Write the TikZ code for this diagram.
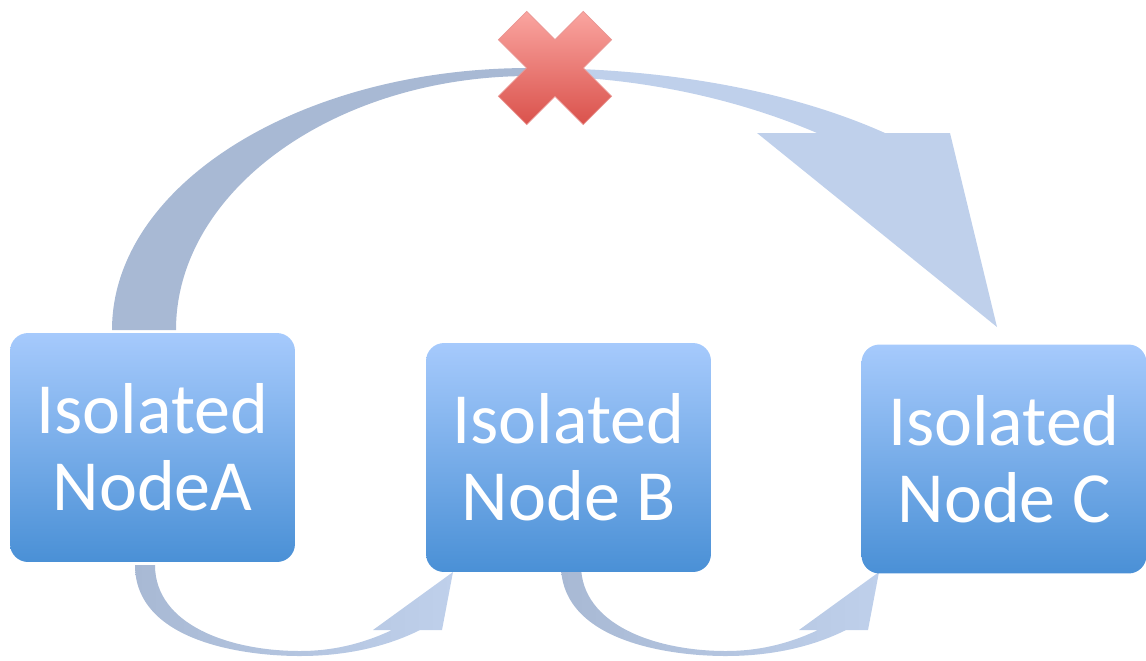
\documentclass[tikz,border=0pt]{standalone}
\usepackage{fontspec}
\setmainfont{Carlito}
\usepackage{tikz}

\definecolor{arrowdark}{RGB}{168,185,212}
\definecolor{arrowlight}{RGB}{191,208,235}
\definecolor{boxtop}{RGB}{166,202,252}
\definecolor{boxbottom}{RGB}{74,144,214}
\definecolor{crosstop}{RGB}{250,165,160}
\definecolor{crossbottom}{RGB}{218,82,76}

\begin{document}
\begin{tikzpicture}[x=0.02cm, y=-0.02cm]
      \useasboundingbox (0,0) rectangle (1146,660);
      \begin{scope}[isonode/.style={rounded corners=0.36cm, minimum width=5.7cm, minimum height=4.58cm, inner sep=0, top color=boxtop, bottom color=boxbottom, text=white, align=center, font=\fontsize{41}{44}\selectfont}]
        % top arrow, from A over to C
        \fill [arrowdark] (112,330) .. controls (112,185) and (300,68) .. (530,68) -- (530,76) .. controls (336,76) and (176,190) .. (176,330) -- cycle;
        \fill [arrowlight] (530,68) .. controls (680,68) and (800,95) .. (885,133) -- (950,133) -- (997,327) -- (757,133) -- (817,133) .. controls (740,100) and (640,76) .. (530,76) -- cycle;
        % bottom arrows
        \foreach \dx/\w in {0/20, 426/20} {
          \begin{scope}[xshift=\dx*0.02cm]
            \shade [left color=arrowdark, right color=arrowlight] (135,565) .. controls (135,640) and (240,656) .. (300,656) .. controls (350,656) and (390,645) .. (420,630) -- (442,630) -- (453,572) -- (373,630) -- (392,630) .. controls (360,645) and (330,651) .. (300,651) .. controls (230,651) and (135+\w,625) .. (135+\w,565) -- cycle;
          \end{scope}
        }
        \node [isonode] (A) at (152.5,447.5) {Isolated\\NodeA};
        \node [isonode] (B) at (568.5,457.5) {Isolated\\Node B};
        \node [isonode] (C) at (1004,459) {Isolated\\Node C};
      \end{scope}
      \shade [top color=crosstop, bottom color=crossbottom, draw=crossbottom!60, line width=0.4pt, shift={(555,68)}] (0,28.3) -- (28.3,56.6) -- (56.6,28.3) -- (28.3,0) -- (56.6,-28.3) -- (28.3,-56.6) -- (0,-28.3) -- (-28.3,-56.6) -- (-56.6,-28.3) -- (-28.3,0) -- (-56.6,28.3) -- (-28.3,56.6) -- cycle;
    \end{tikzpicture}
\end{document}
